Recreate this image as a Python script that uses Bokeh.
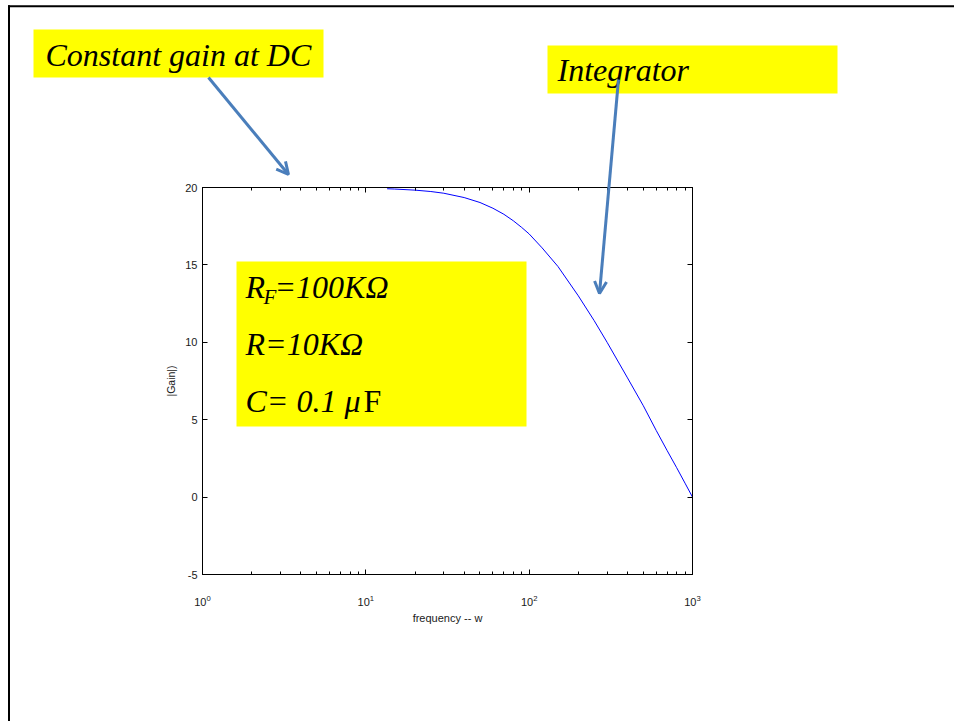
from bokeh.plotting import figure
from bokeh.models import (LogAxis, LinearAxis, FixedTicker, Range1d, Arrow, OpenHead)
from bokeh.core.properties import value
from bokeh.embed import file_html
from bokeh.resources import INLINE

# ---- data ----
freq = [13.5, 15, 20, 25, 30, 40, 50, 60, 70, 80, 90, 100, 120, 150, 200,
        250, 300, 400, 500, 600, 700, 800, 900, 1000]
gain = [19.92, 19.90, 19.83, 19.74, 19.63, 19.35, 19.03, 18.66, 18.27, 17.85,
        17.42, 17.0, 16.1, 14.9, 13.0, 11.4, 10.0, 7.7, 5.9, 4.3, 3.0, 1.9,
        0.9, 0.0]

x_major = [1, 10, 100, 1000]
x_minor = [m * d for d in [1, 10, 100] for m in range(2, 10)]
y_major = [-5, 0, 5, 10, 15, 20]
y_labels = ["-5", "0", "5", "10", "15", "20"]

x_title = "frequency -- w"
y_title = "|Gain|)"
note_dc = "Constant gain at DC"
note_int = "Integrator"
param_lines = ["R", "F", "=100K\u03a9", "R=10K\u03a9", "C= 0.1 \u03bc", "F"]

W, H = 954, 721

# ---- chart figure ----
p = figure(x_axis_type="log", x_range=(1, 1000), y_range=(-5, 20),
           frame_width=490, frame_height=387,
           min_border_left=202, min_border_right=W - 692,
           min_border_top=187, min_border_bottom=H - 574,
           output_backend="svg", toolbar_location=None,
           x_axis_label=x_title, y_axis_label=y_title)
p.grid.visible = False
p.outline_line_color = "black"
p.outline_line_width = 1
p.background_fill_color = "white"
p.border_fill_color = "white"


def style_axis(ax, labels=True):
    ax.major_tick_in = 5
    ax.major_tick_out = 0
    ax.minor_tick_in = 3
    ax.minor_tick_out = 0
    ax.axis_line_color = "black"
    ax.major_tick_line_color = "black"
    ax.minor_tick_line_color = "black"
    ax.major_label_text_font = "Liberation Sans"
    ax.major_label_text_font_size = "11px"
    ax.major_label_text_color = "#1a1a1a" if labels else None
    ax.axis_label_text_font = "Liberation Sans"
    ax.axis_label_text_font_size = "11px"
    ax.axis_label_text_font_style = "normal"
    ax.axis_label_text_color = "#1a1a1a"


p.xaxis.ticker = FixedTicker(ticks=x_major, minor_ticks=x_minor)
p.yaxis.ticker = FixedTicker(ticks=y_major, minor_ticks=[])
p.yaxis.major_label_overrides = dict(zip(y_major, y_labels))
style_axis(p.xaxis[0])
style_axis(p.yaxis[0])
p.yaxis.axis_label_text_font_size = "10.5px"
p.xaxis.major_label_standoff = 20
p.yaxis.major_label_standoff = 5
p.xaxis.axis_label_standoff = 3
p.yaxis.axis_label_standoff = 5

top_ax = LogAxis(ticker=FixedTicker(ticks=x_major, minor_ticks=x_minor))
style_axis(top_ax, labels=False)
p.add_layout(top_ax, "above")
right_ax = LinearAxis(ticker=FixedTicker(ticks=y_major, minor_ticks=[]))
style_axis(right_ax, labels=False)
p.add_layout(right_ax, "right")

p.line(freq, gain, line_color="#0000ff", line_width=1)

# ---- overlay figure for the slide decorations (page pixel space) ----
o = figure(width=W, height=H, x_range=Range1d(0, W), y_range=Range1d(H, 0),
           min_border=0, x_axis_location=None, y_axis_location=None,
           toolbar_location=None, output_backend="svg")
o.grid.visible = False
o.outline_line_color = None
o.background_fill_alpha = 0
o.border_fill_alpha = 0
o.styles = {"position": "absolute", "top": "0px", "left": "0px"}

# slide border (top & left)
o.quad(left=[7.5, 7.5], right=[W, 9.5], top=[4.7, 4.7], bottom=[6.7, H],
       fill_color="black", line_color=None)

# yellow boxes
o.quad(left=[33, 547, 236], right=[323, 837, 526], top=[29, 45, 261],
       bottom=[77, 93, 426], fill_color="#ffff00", line_color=None)

serif = value("Liberation Serif")
o.text(x=[45, 557, 245, 274, 245, 245],
       y=[54, 69.5, 286, 286, 343, 400],
       text=[note_dc, note_int, param_lines[0], param_lines[2], param_lines[3],
             param_lines[4]],
       text_font=serif, text_font_style="italic", text_font_size="32px",
       text_baseline="alphabetic", text_align="left", text_color="black")
o.text(x=[263], y=[296], text=[param_lines[1]], text_font=serif,
       text_font_style="italic", text_font_size="21px",
       text_baseline="alphabetic", text_align="left", text_color="black")
o.text(x=[363], y=[400], text=[param_lines[5]], text_font=serif,
       text_font_style="normal", text_font_size="32px",
       text_baseline="alphabetic", text_align="left", text_color="black")

ARROW = "#4a7ebb"


def arrow(x0, y0, x1, y1):
    o.add_layout(Arrow(end=OpenHead(size=12, line_color=ARROW, line_width=3),
                       x_start=x0, y_start=y0, x_end=x1, y_end=y1,
                       line_color=ARROW, line_width=3))


arrow(208, 77, 288, 174)
arrow(618, 79, 599, 293)

open("out.html", "w").write(file_html([p, o], INLINE))
